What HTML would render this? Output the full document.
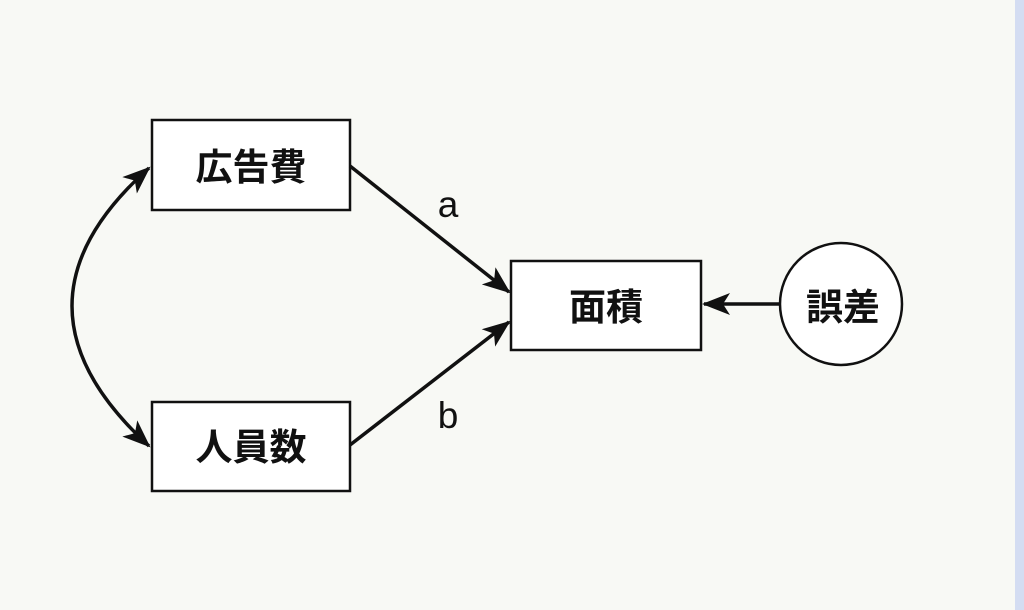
<!DOCTYPE html>
<html><head><meta charset="utf-8"><style>
html,body{margin:0;padding:0;width:1024px;height:610px;overflow:hidden;background:#f8f9f5}
svg{display:block}
text{font-family:"Liberation Sans","Noto Sans CJK JP",sans-serif;fill:#111}
</style></head><body>
<svg width="1024" height="610" viewBox="0 0 1024 610" xmlns="http://www.w3.org/2000/svg">
<defs>
<marker id="a" viewBox="0 0 28 22" refX="26" refY="11" markerWidth="28" markerHeight="22" orient="auto-start-reverse" markerUnits="userSpaceOnUse">
<path d="M0,0 L28,11 L0,22 L7,11 Z" fill="#111"/>
</marker>
</defs>
<rect x="0" y="0" width="1024" height="610" fill="#f8f9f5"/>
<rect x="1015" y="0" width="9" height="610" fill="#d4ddf2"/>
<g fill="#fff" stroke="#111" stroke-width="2.5">
<rect x="152" y="120" width="198" height="90"/>
<rect x="152" y="402" width="198" height="89"/>
<rect x="511" y="261" width="190" height="89"/>
<circle cx="841" cy="304" r="61"/>
</g>
<g fill="none" stroke="#111" stroke-width="3.5">
<path d="M350,166 L509,292" marker-end="url(#a)"/>
<path d="M350,445 L509,322" marker-end="url(#a)"/>
<path d="M780,304 L704,304" marker-end="url(#a)"/>
<path d="M149,168 Q-5,305 149,446" marker-start="url(#a)" marker-end="url(#a)"/>
</g>
<g font-size="37" font-weight="bold" text-anchor="middle">
<text x="251" y="180">広告費</text>
<text x="251" y="460">人員数</text>
<text x="606" y="320">面積</text>
<text x="843" y="320">誤差</text>
</g>
<g font-size="37" text-anchor="middle">
<text x="448" y="217">a</text>
<text x="448" y="428">b</text>
</g>
</svg>
</body></html>
